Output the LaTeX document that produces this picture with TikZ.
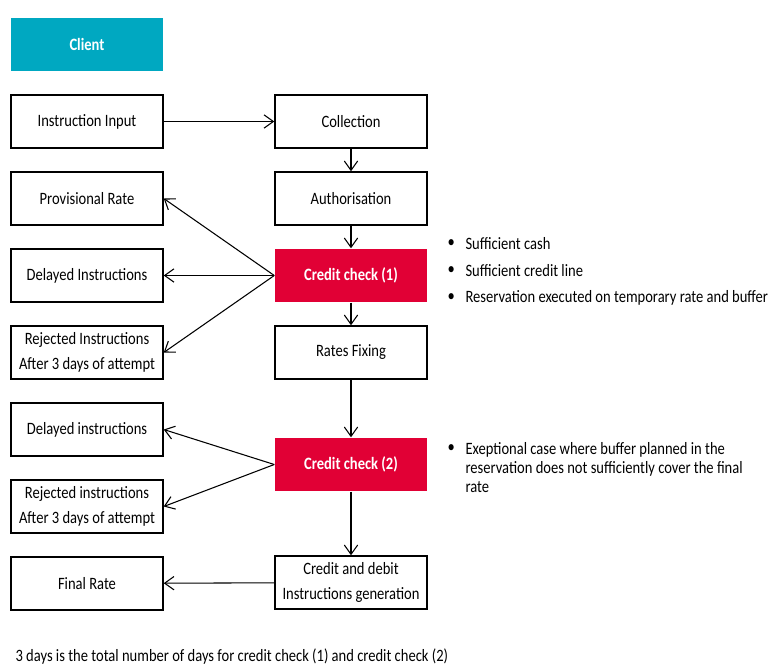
\documentclass[tikz,border=0pt]{standalone}
\usepackage{fontspec}
\setmainfont[FakeStretch=0.84]{Carlito}
\usetikzlibrary{arrows.meta, positioning}
\definecolor{clientblue}{HTML}{00A8C1}
\definecolor{checkred}{HTML}{E10035}

\begin{document}
\begin{tikzpicture}[
            x = 0.75pt,
            y = -0.75pt,
            > = {Straight Barb[length=7pt,width=10pt]},
            node distance = 57.75pt,
            line width = 0.8pt,
            font = \fontsize{13}{14.25}\selectfont
        ]
        \tikzstyle{box}=[
            draw = black,
            line width = 1.1pt,
            fill = white,
            minimum width = 114pt,
            minimum height = 39.75pt,
            inner sep = 1pt,
            align = center
        ]
        \tikzstyle{check}=[
            box,
            draw = none,
            fill = checkred,
            text = white,
            font = \fontsize{13}{14.25}\selectfont\bfseries
        ]
        \tikzstyle{client}=[
            check,
            fill = clientblue
        ]
        \tikzstyle{note}=[
            anchor = west,
            inner sep = 0pt,
            align = left
        ]
        \useasboundingbox (0,0) rectangle (770,668);

        \node[client] (client) at (87,44) {Client};

        % left column
        \node[box] (input) at (87,121.5) {Instruction Input};
        \node[box] (prov) [below of=input] {Provisional Rate};
        \node[box] (delay1) [below of=prov] {Delayed Instructions};
        \node[box] (reject1) [below of=delay1] {Rejected Instructions\\[5pt]After 3 days of attempt};
        \node[box] (delay2) [below of=reject1] {Delayed instructions};
        \node[box] (reject2) [below of=delay2] {Rejected instructions\\[5pt]After 3 days of attempt};
        \node[box] (final) [below of=reject2] {Final Rate};

        % right column
        \node[box] (coll) at (351,121.5) {Collection};
        \node[box] (auth) [below of=coll] {Authorisation};
        \node[check] (cc1) [below of=auth] {Credit check (1)};
        \node[box] (fix) [below of=cc1] {Rates Fixing};
        \node[check] (cc2) at (351,464.5) {Credit check (2)};
        \node[box] (gen) at (351,582.5) {Credit and debit\\[5pt]Instructions generation};

        \draw[->] (input) -- (coll);
        \draw[->] (coll) -- (auth);
        \draw[->] (auth) -- (cc1);
        \draw[->] (cc1) -- (fix);
        \draw[->] (fix) -- (cc2);
        \draw[->] (cc2) -- (gen);
        \draw[->] (cc1.west) -- (prov.east);
        \draw[->] (cc1.west) -- (delay1.east);
        \draw[->] (cc1.west) -- (reject1.east);
        \draw[->] (cc2.west) -- (delay2.east);
        \draw[->] (cc2.west) -- (reject2.east);
        \draw[->] (gen) -- (final);

        % notes
        \foreach \y/\txt in {244/Sufficient cash, 271/Sufficient credit line,
                298/Reservation executed on temporary rate and buffer} {
            \node[note] at (447,\y) {\textbullet};
            \node[note] at (465,\y) {\txt};
        }
        \node[note] (dot2) at (447,449) {\textbullet};
        \node[note] (exc) at (465,468) {Exeptional case where buffer planned in the\\reservation does not sufficiently cover the final\\rate};
        \node[note] (days) at (15,657) {3 days is the total number of days for credit check (1) and credit check (2)};
\end{tikzpicture}
\end{document}
